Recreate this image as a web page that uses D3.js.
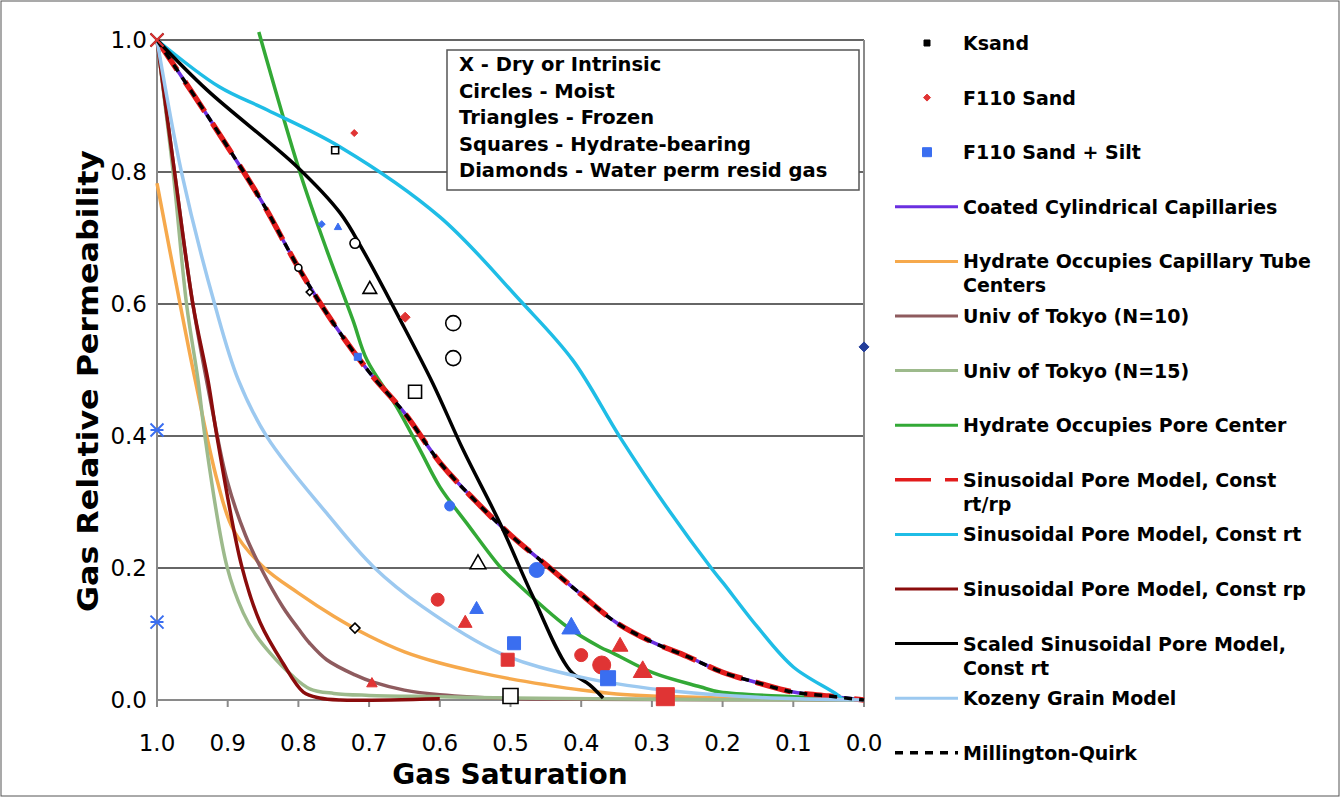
<!DOCTYPE html>
<html>
<head>
<meta charset="utf-8">
<script src="https://cdn.jsdelivr.net/npm/d3@7"></script>
<style>
  body { margin: 0; background: #fff; }
  svg { display: block; font-family: "DejaVu Sans", Verdana, sans-serif; }
  .grid line { stroke: #333; stroke-width: 1.5; }
  .tick-label { font-size: 23px; fill: #000; }
  .axis-title { font-size: 28px; font-weight: bold; fill: #000; }
  .legend text, .note text { font-weight: bold; fill: #000; }
</style>
</head>
<body>
<svg id="chart" width="1342" height="798"></svg>
<script>
// gas saturation / gas relative permeability
const xTicks = [1.0, 0.9, 0.8, 0.7, 0.6, 0.5, 0.4, 0.3, 0.2, 0.1, 0.0];
const yTicks = [0.0, 0.2, 0.4, 0.6, 0.8, 1.0];

const coatedCapillaries = [
  [1.0, 1.0], [0.95, 0.92], [0.9, 0.838], [0.85, 0.752], [0.8, 0.655], [0.75, 0.57],
  [0.7, 0.497], [0.65, 0.435], [0.6, 0.36], [0.55, 0.302], [0.5, 0.25], [0.45, 0.205],
  [0.4, 0.16], [0.35, 0.117], [0.3, 0.088], [0.25, 0.066], [0.2, 0.042], [0.15, 0.026],
  [0.1, 0.012], [0.05, 0.006], [0.0, 0.0]
];
const capillaryTubeCenters = [
  [1.0, 0.783], [0.967, 0.598], [0.946, 0.485], [0.915, 0.333], [0.892, 0.258], [0.85, 0.202],
  [0.8, 0.162], [0.75, 0.127], [0.7, 0.097], [0.65, 0.073], [0.6, 0.056], [0.55, 0.043],
  [0.5, 0.032], [0.45, 0.023], [0.4, 0.015], [0.35, 0.009], [0.3, 0.006], [0.2, 0.003],
  [0.1, 0.001], [0.0, 0.0]
];
const tokyoN10 = [
  [1.0, 1.0], [0.975, 0.798], [0.949, 0.598], [0.921, 0.435], [0.901, 0.333], [0.875, 0.25],
  [0.854, 0.202], [0.822, 0.141], [0.8, 0.108], [0.784, 0.086], [0.76, 0.061], [0.72, 0.038],
  [0.694, 0.027], [0.65, 0.015], [0.6, 0.008], [0.5, 0.002], [0.4, 0.001], [0.0, 0.0]
];
const tokyoN15 = [
  [1.0, 1.0], [0.977, 0.798], [0.958, 0.598], [0.942, 0.485], [0.932, 0.398], [0.901, 0.202],
  [0.878, 0.132], [0.86, 0.098], [0.84, 0.071], [0.81, 0.038], [0.784, 0.017], [0.75, 0.01],
  [0.7, 0.007], [0.6, 0.005], [0.5, 0.003], [0.3, 0.001], [0.0, 0.0]
];
const poreCenter = [
  [0.856, 1.012], [0.798, 0.8], [0.76, 0.682], [0.723, 0.576], [0.703, 0.515], [0.661, 0.444],
  [0.628, 0.379], [0.6, 0.323], [0.562, 0.268], [0.515, 0.202], [0.496, 0.182], [0.42, 0.111],
  [0.373, 0.08], [0.355, 0.071], [0.298, 0.041], [0.232, 0.02], [0.204, 0.012], [0.1, 0.005],
  [0.0, 0.0]
];
const sinusoidalRtRp = [
  [1.0, 1.0], [0.95, 0.92], [0.9, 0.838], [0.85, 0.752], [0.8, 0.655], [0.75, 0.57],
  [0.7, 0.497], [0.65, 0.435], [0.6, 0.36], [0.55, 0.302], [0.5, 0.25], [0.45, 0.205],
  [0.4, 0.16], [0.35, 0.117], [0.3, 0.088], [0.25, 0.066], [0.2, 0.042], [0.15, 0.026],
  [0.1, 0.012], [0.05, 0.006], [0.0, 0.0]
];
const sinusoidalRt = [
  [1.0, 1.0], [0.912, 0.929], [0.844, 0.894], [0.741, 0.838], [0.6, 0.732], [0.487, 0.606],
  [0.412, 0.515], [0.345, 0.398], [0.279, 0.292], [0.214, 0.197], [0.199, 0.177], [0.151, 0.111],
  [0.1, 0.05], [0.038, 0.008], [0.03, 0.0]
];
const sinusoidalRp = [
  [1.0, 1.0], [0.975, 0.798], [0.949, 0.598], [0.928, 0.485], [0.915, 0.398], [0.88, 0.202],
  [0.854, 0.117], [0.822, 0.056], [0.793, 0.012], [0.77, 0.003], [0.741, 0.0], [0.6, 0.002]
];
const scaledSinusoidalRt = [
  [1.0, 1.0], [0.929, 0.924], [0.802, 0.808], [0.741, 0.738], [0.709, 0.682], [0.656, 0.576],
  [0.61, 0.48], [0.567, 0.379], [0.515, 0.268], [0.468, 0.156], [0.416, 0.045], [0.388, 0.023],
  [0.369, 0.003]
];
const kozenyGrain = [
  [1.0, 1.0], [0.965, 0.798], [0.918, 0.598], [0.885, 0.485], [0.844, 0.398], [0.76, 0.283],
  [0.694, 0.202], [0.624, 0.141], [0.515, 0.071], [0.402, 0.035], [0.284, 0.015], [0.15, 0.004],
  [0.0, 0.0]
];
const millingtonQuirk = [
  [1.0, 1.0], [0.95, 0.92], [0.9, 0.838], [0.85, 0.752], [0.8, 0.655], [0.75, 0.57],
  [0.7, 0.497], [0.65, 0.435], [0.6, 0.36], [0.55, 0.302], [0.5, 0.25], [0.45, 0.205],
  [0.4, 0.16], [0.35, 0.117], [0.3, 0.088], [0.25, 0.066], [0.2, 0.042], [0.15, 0.026],
  [0.1, 0.012], [0.05, 0.006], [0.0, 0.0]
];

// measured points: [saturation, permeability, condition, marker grade]
const ksandPoints = [
  [1.0, 1.0, "dry", 3], [0.748, 0.833, "hydrate", 1], [0.72, 0.692, "moist", 2],
  [0.8, 0.655, "moist", 1], [0.784, 0.618, "resid", 1], [0.699, 0.624, "frozen", 3],
  [0.581, 0.571, "moist", 4], [0.581, 0.518, "moist", 4], [0.635, 0.467, "hydrate", 3],
  [0.546, 0.208, "frozen", 4], [0.72, 0.109, "resid", 2], [0.5, 0.006, "hydrate", 4]
];
const f110SandPoints = [
  [1.0, 1.0, "dry", 3], [0.721, 0.859, "resid", 1], [0.649, 0.58, "resid", 2],
  [0.603, 0.152, "moist", 3], [0.564, 0.118, "frozen", 3], [0.696, 0.026, "frozen", 2],
  [0.504, 0.061, "hydrate", 3], [0.4, 0.068, "moist", 3], [0.371, 0.053, "moist", 5],
  [0.345, 0.083, "frozen", 4], [0.313, 0.045, "frozen", 5], [0.281, 0.005, "hydrate", 5]
];
const f110SiltPoints = [
  [1.0, 0.409, "star", 3], [1.0, 0.118, "star", 3], [0.767, 0.721, "resid", 1],
  [0.744, 0.717, "frozen", 1], [0.716, 0.52, "hydrate", 1], [0.586, 0.294, "moist", 2],
  [0.463, 0.197, "moist", 4], [0.548, 0.139, "frozen", 3], [0.495, 0.086, "hydrate", 3],
  [0.414, 0.111, "frozen", 5], [0.362, 0.033, "hydrate", 4]
];
const residGasPoints = [[0.0, 0.535, "resid", 2]];

const noteLines = [
  "X - Dry or Intrinsic", "Circles - Moist", "Triangles - Frozen",
  "Squares - Hydrate-bearing", "Diamonds - Water perm resid gas"
];

const curves = [
  { name: ["Coated Cylindrical Capillaries"], data: coatedCapillaries, color: "#6a2fe0", width: 3.5 },
  { name: ["Hydrate Occupies Capillary Tube", "Centers"], data: capillaryTubeCenters, color: "#f6a94c", width: 3.5 },
  { name: ["Univ of Tokyo (N=10)"], data: tokyoN10, color: "#8e5b5e", width: 3.5 },
  { name: ["Univ of Tokyo (N=15)"], data: tokyoN15, color: "#9dba8c", width: 3.5 },
  { name: ["Hydrate Occupies Pore Center"], data: poreCenter, color: "#33a936", width: 3.5 },
  { name: ["Sinusoidal Pore Model, Const", "rt/rp"], data: sinusoidalRtRp, color: "#e21b1b", width: 5.5, dash: "36,14" },
  { name: ["Sinusoidal Pore Model, Const rt"], data: sinusoidalRt, color: "#1fbde6", width: 3.5 },
  { name: ["Sinusoidal Pore Model, Const rp"], data: sinusoidalRp, color: "#8a0c0c", width: 3.5 },
  { name: ["Scaled Sinusoidal Pore Model,", "Const rt"], data: scaledSinusoidalRt, color: "#000", width: 3.5 },
  { name: ["Kozeny Grain Model"], data: kozenyGrain, color: "#9cc9f0", width: 3.5 },
  { name: ["Millington-Quirk"], data: millingtonQuirk, color: "#000", width: 3.5, dash: "8,7" }
];

const pointSeries = [
  { name: "Ksand", data: ksandPoints, color: "#000", open: true, legendShape: "hydrate", legendSize: 6 },
  { name: "F110 Sand", data: f110SandPoints, color: "#e03434", legendShape: "resid", legendSize: 7 },
  { name: "F110 Sand + Silt", data: f110SiltPoints, color: "#3a6ef0", legendShape: "hydrate", legendSize: 9 }
];

const gradeSize = { 1: 7, 2: 10, 3: 13, 4: 15, 5: 18 };

const svg = d3.select("#chart");
const W = 1342, H = 798;
const x = d3.scaleLinear().domain([1, 0]).range([157, 864]);
const y = d3.scaleLinear().domain([0, 1]).range([700, 40]);

svg.append("rect").attr("x", 1).attr("y", 1).attr("width", W - 4).attr("height", H - 3)
  .attr("fill", "#fff").attr("stroke", "#555").attr("stroke-width", 1);

// grid
svg.append("g").attr("class", "grid")
  .selectAll("line").data(yTicks.filter(d => d > 0)).join("line")
  .attr("x1", x(1)).attr("x2", x(0)).attr("y1", d => y(d)).attr("y2", d => y(d));

// axes frame
const axisG = svg.append("g").attr("stroke", "#8a8a8a").attr("stroke-width", 2);
axisG.append("line").attr("x1", x(1)).attr("x2", x(1)).attr("y1", y(1)).attr("y2", y(0));
axisG.append("line").attr("x1", x(0)).attr("x2", x(0)).attr("y1", y(1)).attr("y2", y(0));
axisG.append("line").attr("x1", x(1)).attr("x2", x(0)).attr("y1", y(0)).attr("y2", y(0));
axisG.selectAll(".xt").data(xTicks).join("line").attr("class", "xt")
  .attr("x1", d => x(d)).attr("x2", d => x(d)).attr("y1", y(0)).attr("y2", y(0) + 7);

svg.append("g").selectAll("text").data(xTicks).join("text")
  .attr("class", "tick-label").attr("x", d => x(d)).attr("y", 751)
  .attr("text-anchor", "middle").text(d => d.toFixed(1));
svg.append("g").selectAll("text").data(yTicks).join("text")
  .attr("class", "tick-label").attr("x", 147).attr("y", d => y(d)).attr("dy", "0.36em")
  .attr("text-anchor", "end").text(d => d.toFixed(1));

svg.append("text").attr("class", "axis-title").attr("x", 510).attr("y", 784)
  .attr("text-anchor", "middle").text("Gas Saturation");
svg.append("text").attr("class", "axis-title")
  .attr("transform", "translate(98,381) rotate(-90)")
  .attr("text-anchor", "middle")
  .attr("textLength", 462).attr("lengthAdjust", "spacingAndGlyphs")
  .text("Gas Relative Permeability");

// curves
const line = d3.line().x(d => x(d[0])).y(d => y(d[1])).curve(d3.curveCatmullRom.alpha(0.5));
svg.append("g").attr("fill", "none").attr("stroke-linejoin", "round")
  .selectAll("path").data(curves).join("path")
  .attr("d", d => line(d.data))
  .attr("stroke", d => d.color)
  .attr("stroke-width", d => d.width)
  .attr("stroke-dasharray", d => d.dash || null);

// marker shapes
function markerPath(type, size) {
  const r = size / 2;
  const p = d3.path();
  if (type === "moist") {
    p.moveTo(r, 0); p.arc(0, 0, r, 0, 2 * Math.PI);
  } else if (type === "frozen") {
    p.moveTo(0, -r * 1.05); p.lineTo(r * 1.05, r * 0.8); p.lineTo(-r * 1.05, r * 0.8); p.closePath();
  } else if (type === "hydrate") {
    p.rect(-r, -r, size, size);
  } else if (type === "resid") {
    p.moveTo(0, -r); p.lineTo(r, 0); p.lineTo(0, r); p.lineTo(-r, 0); p.closePath();
  } else {
    p.moveTo(-r, -r); p.lineTo(r, r); p.moveTo(r, -r); p.lineTo(-r, r);
    if (type === "star") { p.moveTo(-r, 0); p.lineTo(r, 0); }
  }
  return p.toString();
}

const markG = svg.append("g");
pointSeries.forEach(s => {
  markG.append("g").selectAll("path").data(s.data).join("path")
    .attr("transform", d => `translate(${x(d[0])},${y(d[1])})`)
    .attr("d", d => markerPath(d[2], gradeSize[d[3]]))
    .attr("fill", d => (d[2] === "dry" || d[2] === "star") ? "none" : (s.open ? "#fff" : s.color))
    .attr("stroke", s.color)
    .attr("stroke-width", d => (d[2] === "dry" || d[2] === "star") ? 2 : (s.open ? 1.6 : 1));
});
markG.append("g").selectAll("path").data(residGasPoints).join("path")
  .attr("transform", d => `translate(${x(d[0])},${y(d[1])})`)
  .attr("d", d => markerPath(d[2], gradeSize[d[3]]))
  .attr("fill", "#233d99").attr("stroke", "#233d99");

// note box
const note = svg.append("g").attr("class", "note");
note.append("rect").attr("x", 447).attr("y", 50).attr("width", 412).attr("height", 140)
  .attr("fill", "#fff").attr("stroke", "#555").attr("stroke-width", 1.5);
note.selectAll("text").data(noteLines).join("text")
  .attr("x", 459).attr("y", (d, i) => 71 + i * 26.5)
  .attr("font-size", 19.5).text(d => d);

// legend
const legend = svg.append("g").attr("class", "legend");
const legendItems = pointSeries.map(s => ({ kind: "point", s, name: [s.name] }))
  .concat(curves.map(c => ({ kind: "line", c, name: c.name })));
const rowY = i => 43 + i * 54.6;
legendItems.forEach((item, i) => {
  const g = legend.append("g").attr("transform", `translate(0,${rowY(i)})`);
  if (item.kind === "point") {
    g.append("path").attr("transform", "translate(927,0)")
      .attr("d", markerPath(item.s.legendShape, item.s.legendSize))
      .attr("fill", item.s.color).attr("stroke", item.s.color).attr("stroke-width", 1);
  } else {
    const c = item.c;
    g.append("line").attr("x1", 895).attr("x2", 958).attr("y1", 0).attr("y2", 0)
      .attr("stroke", c.color).attr("stroke-width", c.dash ? 3.5 : 3)
      .attr("stroke-dasharray", c.dash || null);
  }
  g.selectAll("text").data(item.name).join("text")
    .attr("x", 963).attr("y", (d, j) => 7 + j * 24)
    .attr("font-size", 19).text(d => d);
});
</script>
</body>
</html>
